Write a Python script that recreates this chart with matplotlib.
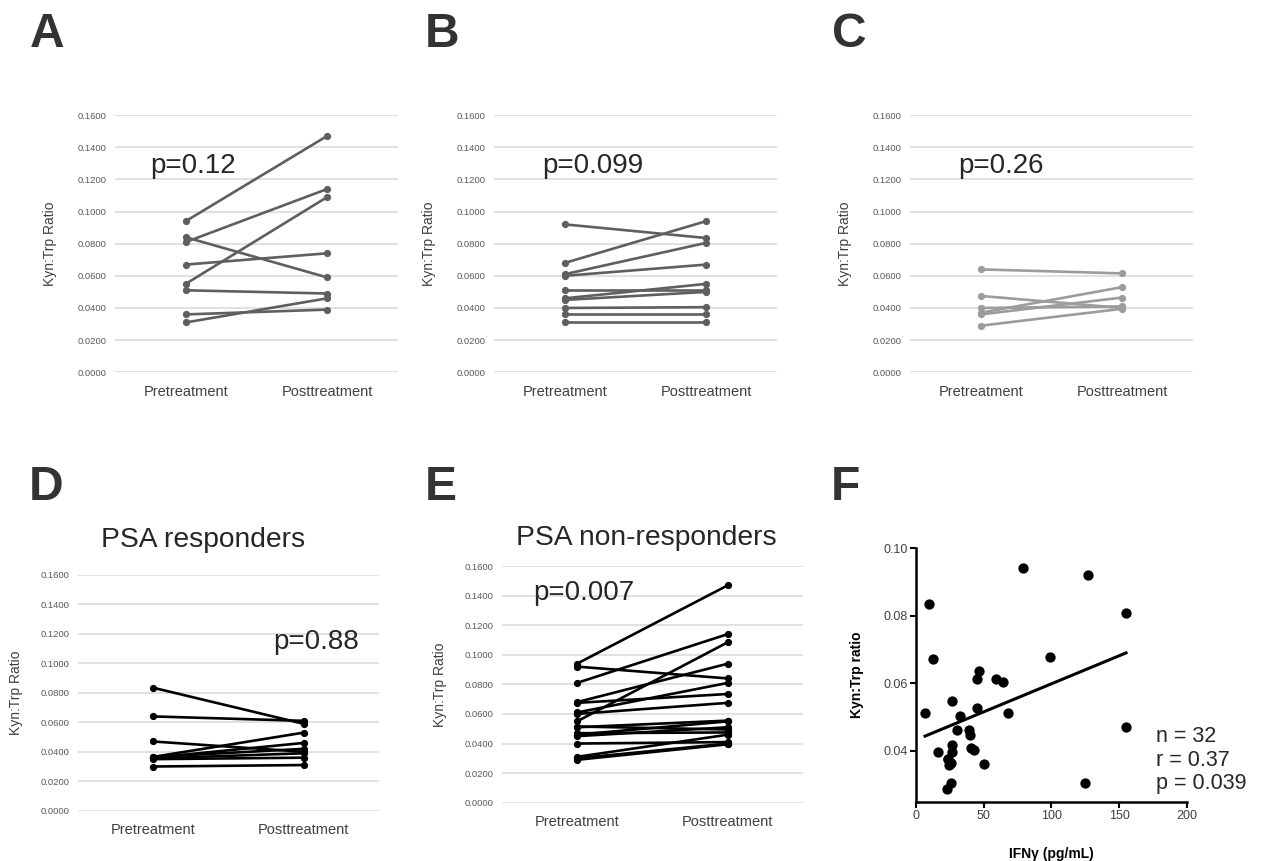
import numpy as np
import matplotlib
matplotlib.use("Agg")
import matplotlib.pyplot as plt

plt.rcParams['font.family'] = ['Liberation Sans', 'DejaVu Sans']

categories = ['Pretreatment', 'Posttreatment']
ratio_ticks = [0.0, 0.02, 0.04, 0.06, 0.08, 0.10, 0.12, 0.14, 0.16]

# panel A
a_pre = [0.094, 0.081, 0.055, 0.067, 0.084, 0.051, 0.031, 0.036]
a_post = [0.147, 0.114, 0.109, 0.074, 0.059, 0.049, 0.046, 0.039]

# panel B
b_pre = [0.092, 0.068, 0.061, 0.060, 0.051, 0.046, 0.045, 0.040, 0.036, 0.031]
b_post = [0.0835, 0.094, 0.0805, 0.067, 0.051, 0.055, 0.050, 0.0405, 0.036, 0.031]

# panel C
c_pre = [0.064, 0.0475, 0.040, 0.037, 0.036, 0.029]
c_post = [0.0615, 0.040, 0.041, 0.053, 0.0465, 0.0395]

# panel D - PSA responders
d_pre = [0.0835, 0.064, 0.047, 0.0365, 0.036, 0.0365, 0.0355, 0.035, 0.030]
d_post = [0.059, 0.061, 0.040, 0.053, 0.046, 0.042, 0.039, 0.036, 0.031]

# panel E - PSA non-responders
e_pre = [0.094, 0.081, 0.055, 0.068, 0.092, 0.061, 0.0675, 0.060, 0.051,
         0.046, 0.045, 0.0515, 0.047, 0.040, 0.031, 0.030, 0.029]
e_post = [0.147, 0.114, 0.1085, 0.094, 0.084, 0.081, 0.0735, 0.0675, 0.0555,
          0.055, 0.051, 0.0495, 0.0475, 0.041, 0.046, 0.040, 0.0395]

# panel F - IFNg vs Kyn:Trp
ifng = [6.7, 9.6, 12.8, 16.0, 22.7, 23.4, 24.6, 25.6, 26.4, 26.8, 26.4, 25.9,
        30.0, 32.5, 39.4, 39.9, 40.6, 42.9, 44.8, 45.3, 46.8, 50.5, 58.9, 64.5,
        68.2, 79.3, 99.0, 124.9, 127.3, 155.2, 155.2, 24.0]
kyn_trp = [0.0511, 0.0836, 0.0671, 0.0398, 0.0289, 0.0377, 0.0360, 0.0306,
           0.0549, 0.0418, 0.0397, 0.0365, 0.0461, 0.0504, 0.0461, 0.0447,
           0.0410, 0.0404, 0.0527, 0.0614, 0.0638, 0.0362, 0.0614, 0.0603,
           0.0511, 0.0942, 0.0678, 0.0306, 0.0921, 0.0807, 0.0472, 0.0375]


def paired_panel(rect, pre, post, color, ylabel_x):
    ax = fig.add_axes(rect)
    for p0, p1 in zip(pre, post):
        ax.plot([0, 1], [p0, p1], color=color, lw=1.9, marker='o', ms=4.2,
                solid_capstyle='round')
    ax.set_xlim(-0.5, 1.5)
    ax.set_ylim(0, 0.16)
    ax.set_xticks([0, 1])
    ax.set_xticklabels(categories, fontsize=10.5, color='#404040')
    ax.set_yticks(ratio_ticks)
    ax.set_yticklabels(['%.4f' % t for t in ratio_ticks], fontsize=6.8, color='#595959')
    ax.tick_params(length=0, axis='y', pad=6)
    ax.tick_params(length=0, axis='x', pad=9)
    ax.grid(axis='y', color='#d9d9d9', lw=1.1)
    ax.set_axisbelow(True)
    for s in ax.spines.values():
        s.set_visible(False)
    ax.set_ylabel('Kyn:Trp Ratio', fontsize=10, color='#404040')
    ax.yaxis.set_label_coords(ylabel_x, 0.5)
    return ax


fig = plt.figure(figsize=(12.65, 8.61), dpi=100)

ax_a = paired_panel([0.0909, 0.5676, 0.2237, 0.2988], a_pre, a_post, '#5f5f5f', -0.205)
ax_a.text(0.123, 0.124, 'p=0.12', transform=ax_a.get_yaxis_transform(), fontsize=20, color='#262626')

ax_b = paired_panel([0.3905, 0.5676, 0.2237, 0.2988], b_pre, b_post, '#5f5f5f', -0.205)
ax_b.text(0.172, 0.124, 'p=0.099', transform=ax_b.get_yaxis_transform(), fontsize=20, color='#262626')

ax_c = paired_panel([0.7194, 0.5676, 0.2237, 0.2988], c_pre, c_post, '#9c9c9c', -0.205)
ax_c.text(0.169, 0.124, 'p=0.26', transform=ax_c.get_yaxis_transform(), fontsize=20, color='#262626')

ax_d = paired_panel([0.0614, 0.0584, 0.2382, 0.2738], d_pre, d_post, 'black', -0.182)
ax_d.text(0.648, 0.110, 'p=0.88', transform=ax_d.get_yaxis_transform(), fontsize=20, color='#262626')

ax_e = paired_panel([0.3966, 0.0677, 0.2384, 0.2749], e_pre, e_post, 'black', -0.181)
ax_e.text(0.105, 0.137, 'p=0.007', transform=ax_e.get_yaxis_transform(), fontsize=20, color='#262626')

fig.text(203 / 1265, 1 - 547 / 861, 'PSA responders', ha='center', va='baseline',
         fontsize=20.3, color='#262626')
fig.text(646 / 1265, 1 - 545 / 861, 'PSA non-responders', ha='center', va='baseline',
         fontsize=20.3, color='#262626')

# panel F scatter with linear fit
ax_f = fig.add_axes([0.7241, 0.0689, 0.2140, 0.2943])
ax_f.scatter(ifng, kyn_trp, s=55, color='black', zorder=3, linewidths=0)
slope, intercept = np.polyfit(ifng, kyn_trp, 1)
xfit = np.array([min(ifng), max(ifng)])
ax_f.plot(xfit, slope * xfit + intercept, color='black', lw=2.2)
ax_f.set_xlim(0, 200)
ax_f.set_ylim(0.025, 0.10)
ax_f.set_xticks([0, 50, 100, 150, 200])
ax_f.set_yticks([0.04, 0.06, 0.08, 0.10])
ax_f.set_yticklabels(['0.04', '0.06', '0.08', '0.10'])
ax_f.tick_params(direction='out', length=4, width=1.5, labelsize=9, labelcolor='#404040', pad=2)
for side in ['top', 'right']:
    ax_f.spines[side].set_visible(False)
for side in ['left', 'bottom']:
    ax_f.spines[side].set_linewidth(1.8)
ax_f.set_ylabel('Kyn:Trp ratio', fontsize=10, fontweight='bold')
ax_f.yaxis.set_label_coords(-0.192, 0.5)
ax_f.set_xlabel('IFN\u03b3 (pg/mL)', fontsize=10, fontweight='bold')
ax_f.xaxis.set_label_coords(0.5, -0.179)
ax_f.text(177, 0.0287, 'n = 32\nr = 0.37\np = 0.039', fontsize=15.5, color='#262626',
          ha='left', va='baseline', linespacing=1.15)

# panel letters
letters = [('A', 30, 46.7), ('B', 425, 46.7), ('C', 832, 46.7),
           ('D', 29, 499.5), ('E', 425, 499.5), ('F', 831, 499.5)]
for lab, px, py in letters:
    fig.text(px / 1265, 1 - py / 861, lab, fontsize=34.5, fontweight='bold',
             color='#333333', ha='left', va='baseline')

fig.savefig('out.png', dpi=100)
